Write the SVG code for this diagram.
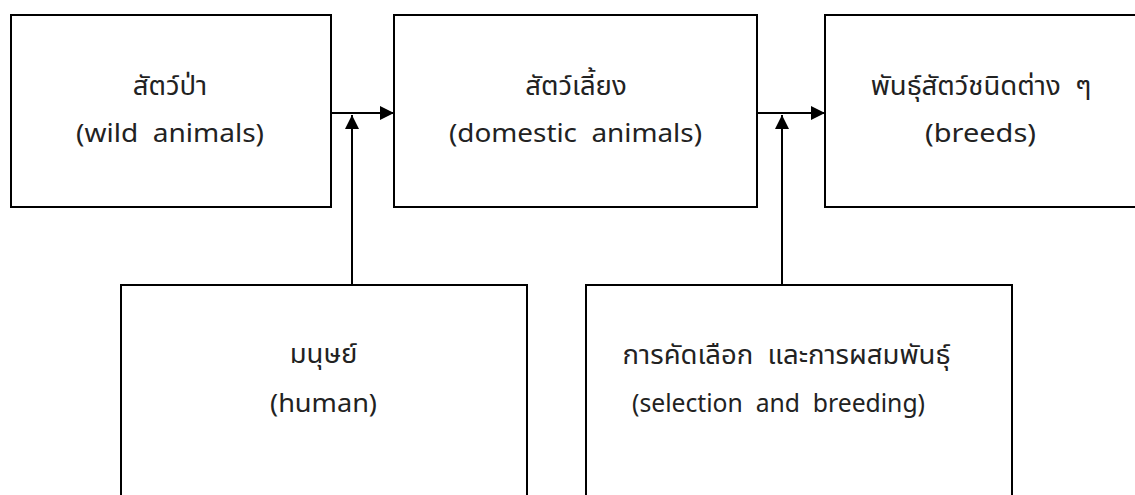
<svg xmlns="http://www.w3.org/2000/svg" width="1135" height="495" viewBox="0 0 1135 495">
<style>
.box{fill:#fff;stroke:#000;stroke-width:2}
.t{font-family:"Noto Sans","Noto Sans Thai","Noto Sans Thai UI",sans-serif;font-size:26px;fill:#222;text-anchor:middle;white-space:pre}
.th{font-size:27.5px}
.c{stroke:#000;stroke-width:2;fill:none}
</style>
<defs>
<marker id="ah" markerWidth="14" markerHeight="14" viewBox="0 0 14 14" refX="14" refY="7" orient="auto" markerUnits="userSpaceOnUse">
<path d="M0,0 L14,7 L0,14 Z" fill="#000"/>
</marker>
</defs>
<g id="wild">
<rect class="box" x="11" y="15" width="320" height="192"/>
<text class="t th" x="170" y="95" xml:space="preserve">สัตว์ป่า</text>
<text class="t" x="170" y="142" textLength="188" lengthAdjust="spacingAndGlyphs" xml:space="preserve">(wild  animals)</text>
</g>
<g id="domestic">
<rect class="box" x="394" y="15" width="363" height="192"/>
<text class="t th" x="576" y="95" xml:space="preserve">สัตว์เลี้ยง</text>
<text class="t" x="575.5" y="142" textLength="253" lengthAdjust="spacingAndGlyphs" xml:space="preserve">(domestic  animals)</text>
</g>
<g id="breeds">
<rect class="box" x="825" y="15" width="330" height="192"/>
<text class="t th" x="981" y="95" xml:space="preserve">พันธุ์สัตว์ชนิดต่าง  ๆ</text>
<text class="t" x="980.5" y="142" textLength="111" lengthAdjust="spacingAndGlyphs" xml:space="preserve">(breeds)</text>
</g>
<g id="human">
<rect class="box" x="121" y="285" width="406" height="230"/>
<text class="t th" x="323.5" y="363" xml:space="preserve">มนุษย์</text>
<text class="t" x="323.5" y="412" textLength="107" lengthAdjust="spacingAndGlyphs" xml:space="preserve">(human)</text>
</g>
<g id="selection">
<rect class="box" x="586" y="285" width="426" height="230"/>
<text class="t th" x="786.5" y="364" xml:space="preserve">การคัดเลือก  และการผสมพันธุ์</text>
<text class="t" x="778.5" y="412" textLength="293" lengthAdjust="spacingAndGlyphs" xml:space="preserve">(selection  and  breeding)</text>
</g>
<g id="connectors">
<line class="c" x1="331" y1="113" x2="394" y2="113" marker-end="url(#ah)"/>
<line class="c" x1="352" y1="285" x2="352" y2="115" marker-end="url(#ah)"/>
<line class="c" x1="757" y1="113" x2="825" y2="113" marker-end="url(#ah)"/>
<line class="c" x1="782" y1="285" x2="782" y2="115" marker-end="url(#ah)"/>
</g>
</svg>
